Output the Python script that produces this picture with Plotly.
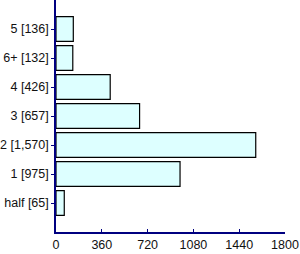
import plotly.graph_objects as go

categories = ["half", "1", "2", "3", "4", "6+", "5"]
values = [65, 975, 1570, 657, 426, 132, 136]
tick_labels = ["half [65]", "1 [975]", "2 [1,570]", "3 [657]", "4 [426]", "6+ [132]", "5 [136]"]
x_ticks = [0, 360, 720, 1080, 1440, 1800]

idx = list(range(len(categories)))

fig = go.Figure(go.Bar(
    x=values, y=idx, orientation="h", width=0.86,
    marker=dict(color="#ddffff", line=dict(color="black", width=1.2)),
))

axis_color = "#000080"
fig.update_layout(
    width=300, height=254,
    margin=dict(l=56, r=15, t=0, b=22),
    paper_bgcolor="white", plot_bgcolor="white",
    showlegend=False,
    font=dict(family="Liberation Sans, Arial, sans-serif", size=12.5, color="#111111"),
    xaxis=dict(range=[0, 1800], tickvals=x_ticks, ticks="inside", ticklen=3,
               tickcolor=axis_color, showline=True, linecolor=axis_color, linewidth=1.5,
               showgrid=False, zeroline=False, fixedrange=True),
    yaxis=dict(range=[-1, 7], tickvals=idx, ticktext=tick_labels, ticks="outside",
               ticklen=3, tickcolor=axis_color, showline=True, linecolor=axis_color,
               linewidth=1.5, showgrid=False, zeroline=False, ticklabelstandoff=0),
)

fig.write_html("out.html")
